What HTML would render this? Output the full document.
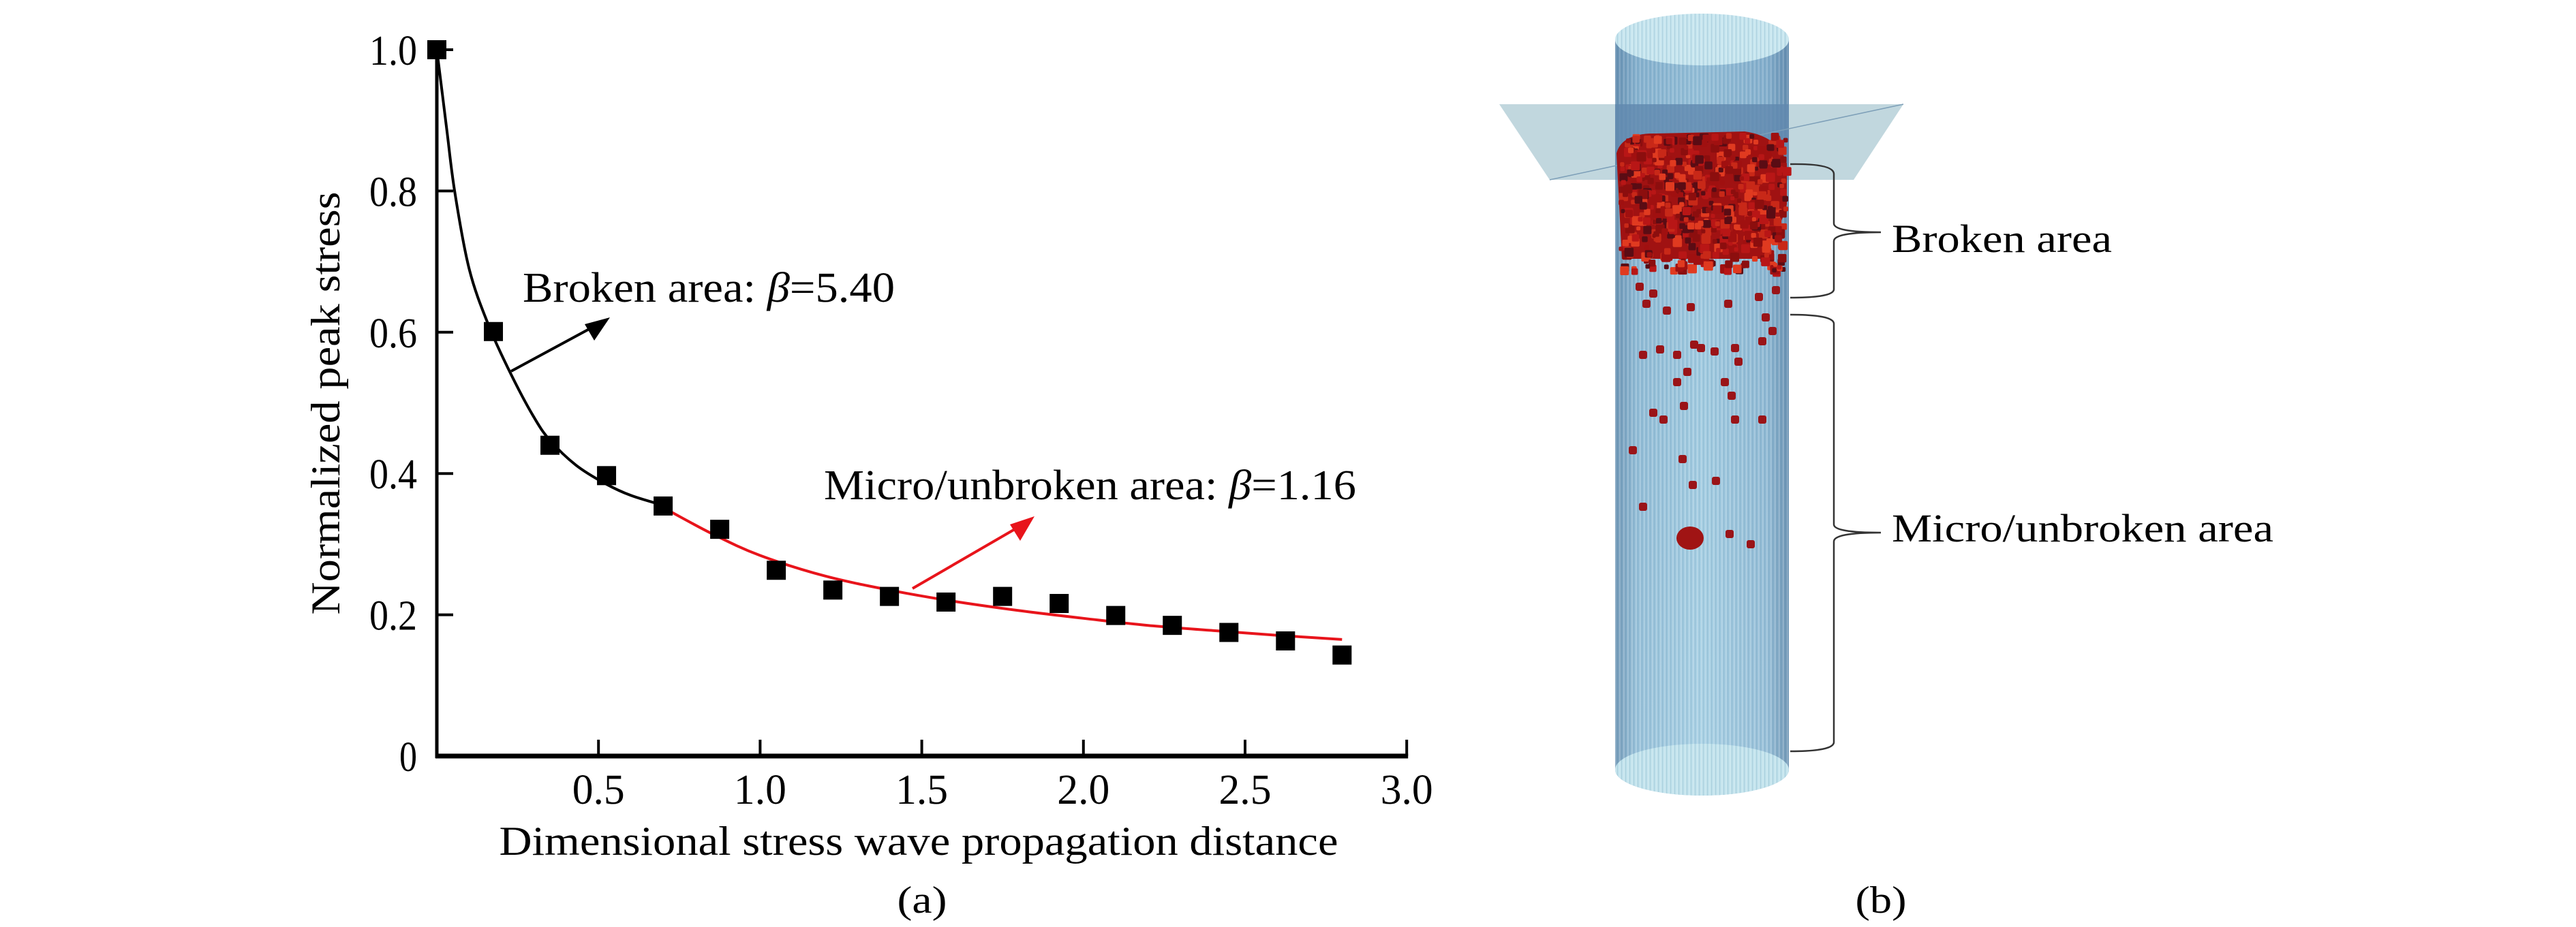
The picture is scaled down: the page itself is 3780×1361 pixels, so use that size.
<!DOCTYPE html>
<html><head><meta charset="utf-8"><style>
html,body{margin:0;padding:0;background:#fff;}
svg{display:block;font-family:"Liberation Serif",serif;}
</style></head><body>
<svg id="fig" width="3780" height="1361" viewBox="0 0 3780 1361" xmlns="http://www.w3.org/2000/svg">
<defs>
<linearGradient id="cylg" x1="0" x2="1" y1="0" y2="0">
<stop offset="0" stop-color="#6f97b6"/><stop offset="0.12" stop-color="#94bfd8"/><stop offset="0.5" stop-color="#a6d0e4"/><stop offset="0.88" stop-color="#92bcd6"/><stop offset="1" stop-color="#6a92b2"/>
</linearGradient>
<linearGradient id="cylv" x1="0" x2="0" y1="0" y2="1">
<stop offset="0" stop-color="#3d6a9a" stop-opacity="0.18"/><stop offset="0.4" stop-color="#3d6a9a" stop-opacity="0.06"/><stop offset="1" stop-color="#ffffff" stop-opacity="0.05"/>
</linearGradient>
<pattern id="stripes" width="6" height="10" patternUnits="userSpaceOnUse">
<rect x="0" y="0" width="1.5" height="10" fill="#ffffff" fill-opacity="0.25"/>
<rect x="3" y="0" width="1" height="10" fill="#305a80" fill-opacity="0.15"/>
</pattern>
</defs>
<g id="chartA"></g>
<g id="panelB"></g>
</svg>
<script>
const xTicks = [0.5, 1.0, 1.5, 2.0, 2.5, 3.0];
const xTickLabels = ["0.5", "1.0", "1.5", "2.0", "2.5", "3.0"];
const yTicks = [0, 0.2, 0.4, 0.6, 0.8, 1.0];
const yTickLabels = ["0", "0.2", "0.4", "0.6", "0.8", "1.0"];
const distance = [0, 0.175, 0.35, 0.525, 0.7, 0.875, 1.05, 1.225, 1.4, 1.575, 1.75, 1.925, 2.1, 2.275, 2.45, 2.625, 2.8];
const peakStress = [1.0, 0.601, 0.44, 0.397, 0.354, 0.321, 0.263, 0.235, 0.226, 0.218, 0.226, 0.216, 0.199, 0.185, 0.175, 0.163, 0.143];
const brokenFitX = [0, 0.03, 0.055, 0.1, 0.16, 0.23, 0.3, 0.35, 0.43, 0.52, 0.6, 0.7];
const brokenFitY = [1.0, 0.89, 0.80, 0.69, 0.61, 0.54, 0.48, 0.447, 0.412, 0.386, 0.369, 0.355];
const microFitX = [0.7, 0.85, 1.0, 1.2, 1.4, 1.6, 1.8, 2.0, 2.2, 2.45, 2.6, 2.8];
const microFitY = [0.352, 0.315, 0.284, 0.255, 0.235, 0.219, 0.206, 0.195, 0.185, 0.176, 0.171, 0.165];

const NS = "http://www.w3.org/2000/svg";
const X0 = 641, XS = 474.4, Y0 = 1110, YS = 1037;
function sx(v){ return X0 + v * XS; }
function sy(v){ return Y0 - v * YS; }
function mk(tag, attrs, parent){ const e = document.createElementNS(NS, tag); for (const k in attrs) e.setAttribute(k, attrs[k]); parent.appendChild(e); return e; }

const A = document.getElementById("chartA");
let e;
e = mk("line", {x1: X0, y1: sy(1.0) - 2, x2: X0, y2: Y0 + 3, stroke: "#000", "stroke-width": 5}, A);


e = mk("line", {x1: X0 - 2, y1: Y0, x2: sx(3.0) + 2, y2: Y0, stroke: "#000", "stroke-width": 7}, A);


xTicks.forEach((t, i) => {
  const tk = mk("line", {x1: sx(t), y1: Y0, x2: sx(t), y2: Y0 - 24, stroke: "#000", "stroke-width": 4}, A);
  
  
  const lb = mk("text", {x: sx(t), y: 1180, "font-size": 62, "text-anchor": "middle", textLength: 77, lengthAdjust: "spacingAndGlyphs"}, A);
  lb.textContent = xTickLabels[i];
  
  
});
yTicks.forEach((t, i) => {
  if (t > 0) {
    const tk = mk("line", {x1: X0, y1: sy(t), x2: X0 + 24, y2: sy(t), stroke: "#000", "stroke-width": 4}, A);
    
    
  }
  const w = yTickLabels[i].length === 1 ? 26 : 70;
  const lb = mk("text", {x: 612, y: sy(t) + 22, "font-size": 62, "text-anchor": "end", textLength: w, lengthAdjust: "spacingAndGlyphs"}, A);
  lb.textContent = yTickLabels[i];
  
  
});
e = mk("text", {x: 1348, y: 1255, "font-size": 60, "text-anchor": "middle", textLength: 1231, lengthAdjust: "spacingAndGlyphs"}, A);
e.textContent = "Dimensional stress wave propagation distance";


e = mk("text", {x: 0, y: 0, "font-size": 60, "text-anchor": "middle", textLength: 621, lengthAdjust: "spacingAndGlyphs", transform: "translate(498,592) rotate(-90)"}, A);
e.textContent = "Normalized peak stress";


e = mk("text", {x: 1353, y: 1340, "font-size": 56, "text-anchor": "middle", textLength: 73, lengthAdjust: "spacingAndGlyphs"}, A);
e.textContent = "(a)";



// smooth Catmull-Rom path through data points
function pathFrom(xs, ys){
  const p = xs.map((x, i) => [sx(x), sy(ys[i])]);
  let d = "M" + p[0][0].toFixed(1) + "," + p[0][1].toFixed(1);
  for (let i = 0; i < p.length - 1; i++) {
    const p0 = p[Math.max(0, i - 1)], p1 = p[i], p2 = p[i + 1], p3 = p[Math.min(p.length - 1, i + 2)];
    const c1 = [p1[0] + (p2[0] - p0[0]) / 6, p1[1] + (p2[1] - p0[1]) / 6];
    const c2 = [p2[0] - (p3[0] - p1[0]) / 6, p2[1] - (p3[1] - p1[1]) / 6];
    d += " C" + c1[0].toFixed(1) + "," + c1[1].toFixed(1) + " " + c2[0].toFixed(1) + "," + c2[1].toFixed(1) + " " + p2[0].toFixed(1) + "," + p2[1].toFixed(1);
  }
  return d;
}
e = mk("path", {d: pathFrom(brokenFitX, brokenFitY), fill: "none", stroke: "#000", "stroke-width": 4, "stroke-linejoin": "round"}, A);


e = mk("path", {d: pathFrom(microFitX, microFitY), fill: "none", stroke: "#e8141b", "stroke-width": 4, "stroke-linejoin": "round"}, A);



distance.forEach((d, i) => {
  const m = mk("rect", {x: sx(d) - 14, y: sy(peakStress[i]) - 14, width: 28, height: 28, fill: "#000"}, A);
  
  
});

e = mk("line", {x1: 750, y1: 545, x2: 885, y2: 472, stroke: "#000", "stroke-width": 4}, A);


e = mk("polygon", {points: "895,466 858,476 872,500", fill: "#000"}, A);


e = mk("line", {x1: 1339, y1: 864, x2: 1508, y2: 766, stroke: "#e8141b", "stroke-width": 4}, A);


e = mk("polygon", {points: "1518,758 1482,770 1497,794", fill: "#e8141b"}, A);



e = mk("text", {x: 767, y: 443, "font-size": 62, textLength: 546, lengthAdjust: "spacingAndGlyphs"}, A);
e.innerHTML = 'Broken area: <tspan font-style="italic">β</tspan>=5.40';


e = mk("text", {x: 1209, y: 733, "font-size": 62, textLength: 781, lengthAdjust: "spacingAndGlyphs"}, A);
e.innerHTML = 'Micro/unbroken area: <tspan font-style="italic">β</tspan>=1.16';



// ---------- panel b ----------
const B = document.getElementById("panelB");
const CL = 2370, CR = 2625, CX = 2497.5, RX = 127.5, RY = 38, CT = 58, CB = 1130;
e = mk("path", {d: `M${CL},${CT} L${CL},${CB} A${RX},${RY} 0 0 0 ${CR},${CB} L${CR},${CT} Z`, fill: "url(#cylg)"}, B);


mk("path", {d: `M${CL},${CT} L${CL},${CB} A${RX},${RY} 0 0 0 ${CR},${CB} L${CR},${CT} Z`, fill: "url(#stripes)"}, B);
mk("rect", {x: CL, y: CT, width: CR - CL, height: CB - CT, fill: "url(#cylv)"}, B);
e = mk("ellipse", {cx: CX, cy: CT, rx: RX, ry: RY, fill: "#c4e4ee"}, B);


mk("ellipse", {cx: CX, cy: CT, rx: RX, ry: RY, fill: "url(#stripes)"}, B);
e = mk("ellipse", {cx: CX, cy: CB, rx: RX, ry: RY, fill: "#c0e2ec"}, B);


mk("ellipse", {cx: CX, cy: CB, rx: RX, ry: RY, fill: "url(#stripes)"}, B);
e = mk("polygon", {points: "2200,153 2793,153 2720,264 2274,264", fill: "#9fc1cc", "fill-opacity": 0.65}, B);


mk("rect", {x: CL, y: 153, width: CR - CL, height: 111, fill: "#2f5b96", "fill-opacity": 0.45}, B);
mk("line", {x1: 2274, y1: 264, x2: 2793, y2: 153, stroke: "#7d9fb8", "stroke-width": 1.5}, B);

let seed = 7;
function rnd(){ seed = (seed * 16807) % 2147483647; return seed / 2147483647; }
const pg = mk("g", {}, B);


mk("path", {d: "M2372,225 Q2380,195 2430,196 L2560,193 Q2610,200 2622,240 L2622,300 Q2615,330 2600,345 L2590,380 L2380,380 Z", fill: "#a01212"}, pg);
const cols = ["#b81616", "#8c0e0e", "#c82818", "#5a0c14", "#a01010", "#e03a20"];
for (let i = 0; i < 700; i++) {
  const x = CL + 5 + rnd() * (CR - CL - 12);
  const y = 195 + rnd() * 200;
  if (y > 350 && rnd() < 0.45) continue;
  const s = 6 + rnd() * 8;
  mk("rect", {x: x, y: y, width: s, height: s, rx: 2, fill: cols[Math.floor(rnd() * cols.length)]}, pg);
}
const scat = [[2400,415],[2420,425],[2410,440],[2440,450],[2475,445],[2530,440],[2575,430],[2600,420],[2585,460],[2595,480],[2580,495],[2480,500],[2490,505],[2510,510],[2430,507],[2405,515],[2455,515],[2540,505],[2545,525],[2470,540],[2455,555],[2525,555],[2535,575],[2465,590],[2420,600],[2435,610],[2540,610],[2580,610],[2390,655],[2463,668],[2478,706],[2405,738],[2532,778],[2563,793],[2512,700]];
scat.forEach(p => { mk("rect", {x: p[0], y: p[1], width: 12, height: 12, rx: 3, fill: "#9a1418"}, pg); });
mk("ellipse", {cx: 2480, cy: 790, rx: 20, ry: 17, fill: "#a01414"}, pg);

e = mk("path", {d: "M2627,241 Q2690,240 2691,255 L2691,328 Q2691,341 2760,341 Q2691,341 2691,354 L2691,425 Q2690,437 2627,437", fill: "none", stroke: "#333", "stroke-width": 2.5}, B);


e = mk("path", {d: "M2627,462 Q2690,462 2691,475 L2691,770 Q2691,782 2760,782 Q2691,782 2691,795 L2691,1090 Q2690,1103 2627,1103", fill: "none", stroke: "#333", "stroke-width": 2.5}, B);


e = mk("text", {x: 2776, y: 370, "font-size": 58, textLength: 323, lengthAdjust: "spacingAndGlyphs"}, B);
e.textContent = "Broken area";


e = mk("text", {x: 2776, y: 795, "font-size": 58, textLength: 560, lengthAdjust: "spacingAndGlyphs"}, B);
e.textContent = "Micro/unbroken area";


e = mk("text", {x: 2760, y: 1340, "font-size": 56, "text-anchor": "middle", textLength: 75, lengthAdjust: "spacingAndGlyphs"}, B);
e.textContent = "(b)";


</script>
</body></html>
